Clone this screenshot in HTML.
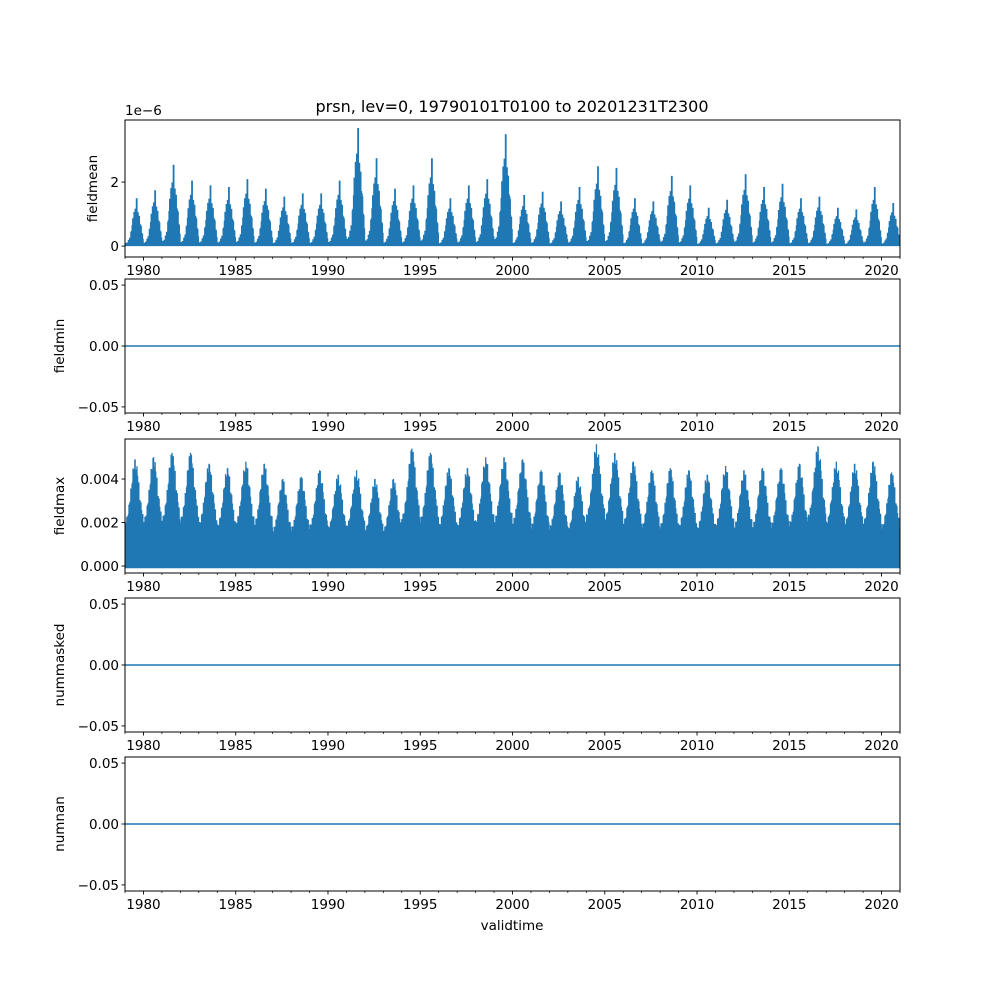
<!DOCTYPE html>
<html><head><meta charset="utf-8"><style>
body{margin:0;background:#fff}
svg{display:block;font-family:"DejaVu Sans","Liberation Sans",sans-serif}
</style></head><body>
<svg id="fig" width="1000" height="1000" viewBox="0 0 1000 1000">
<text x="512" y="112" font-size="16" text-anchor="middle">prsn, lev=0, 19790101T0100 to 20201231T2300</text>
<text x="512" y="930" font-size="13.5" text-anchor="middle">validtime</text>
</svg>
<script>
const years=[1979,1980,1981,1982,1983,1984,1985,1986,1987,1988,1989,1990,1991,1992,1993,1994,1995,1996,1997,1998,1999,2000,2001,2002,2003,2004,2005,2006,2007,2008,2009,2010,2011,2012,2013,2014,2015,2016,2017,2018,2019,2020];
const meanPeaks=[1.5,1.75,2.55,2.05,1.9,1.85,2.1,1.8,1.55,1.65,1.65,2.05,3.7,2.75,1.8,1.9,2.75,1.5,1.9,2.1,3.5,1.6,1.7,1.4,1.85,2.5,2.45,1.5,1.4,2.2,1.9,1.2,1.45,2.25,1.85,1.95,1.5,1.55,1.2,1.15,1.85,1.35];
const maxPeaks=[0.0049,0.0050,0.0052,0.0052,0.0047,0.0045,0.0048,0.0047,0.0040,0.0041,0.0044,0.0042,0.0044,0.0040,0.0040,0.0054,0.0052,0.0045,0.0045,0.0050,0.0050,0.0049,0.0044,0.0043,0.0041,0.0056,0.0052,0.0048,0.0044,0.0045,0.0044,0.0042,0.0046,0.0044,0.0045,0.0045,0.0047,0.0055,0.0048,0.0047,0.0048,0.0043];
const xTicks=[1980,1985,1990,1995,2000,2005,2010,2015,2020];
const jitter=[1,0.8,0.95,0.7,0.9,0.6,1,0.75,0.85,0.65,0.92,0.78,0.88];
const NS='http://www.w3.org/2000/svg';
const svg=document.getElementById('fig');
const L=125,R=900,X0=1979.0,X1=2021.0;
const xs=v=>L+(v-X0)/(X1-X0)*(R-L);
function el(t,a,p){const e=document.createElementNS(NS,t);for(const k in a)e.setAttribute(k,a[k]);(p||svg).appendChild(e);return e;}
const panels=[
 {name:'fieldmean',top:120,bot:257,ymin:-0.34,ymax:3.94,ticks:[0,2],fmt:v=>String(v),off:'1e\u22126'},
 {name:'fieldmin',top:279,bot:413,ymin:-0.055,ymax:0.055,ticks:[-0.05,0,0.05],fmt:v=>v.toFixed(2).replace('-','\u2212')},
 {name:'fieldmax',top:439,bot:573,ymin:-0.00032,ymax:0.00584,ticks:[0,0.002,0.004],fmt:v=>v.toFixed(3)},
 {name:'nummasked',top:598,bot:732,ymin:-0.055,ymax:0.055,ticks:[-0.05,0,0.05],fmt:v=>v.toFixed(2).replace('-','\u2212')},
 {name:'numnan',top:757,bot:891,ymin:-0.055,ymax:0.055,ticks:[-0.05,0,0.05],fmt:v=>v.toFixed(2).replace('-','\u2212')}
];
panels.forEach((p,pi)=>{
 const g=el('g',{});
 
 
 const ys=v=>p.bot-(v-p.ymin)/(p.ymax-p.ymin)*(p.bot-p.top);
 const clipId='c'+pi;
 const cp=el('clipPath',{id:clipId},g);el('rect',{x:L,y:p.top,width:R-L,height:p.bot-p.top},cp);
 if(pi===0||pi===2){
  const steps=pi===0?30:60;let d='';
  years.forEach((yr,i)=>{
   const pk=pi===0?meanPeaks[i]:maxPeaks[i];
   for(let s=0;s<steps;s++){
    const t=s/steps;
    let v;
    if(pi===0){const b=Math.exp(-Math.pow((t-0.62)/0.27,2));v=pk*(0.06+0.94*b)*(s===19?1:jitter[s%jitter.length]*0.9);}
    else {const b=Math.exp(-Math.pow((t-0.55)/0.3,2));v=pk*(0.4+0.6*b)*(s===33?1:jitter[(s+i)%jitter.length]);}
    const x=xs(yr+t);
    d+=`M${x.toFixed(2)},${ys(pi===0?0:-0.0001).toFixed(1)}V${ys(v).toFixed(1)}`;
   }
  });
  const path=el('path',{d:d,stroke:'#1f77b4','stroke-width':pi===0?1.8:1.3,fill:'none','clip-path':`url(#${clipId})`},g);
  
  
 } else {
  const ln=el('line',{x1:L,x2:R,y1:ys(0),y2:ys(0),stroke:'#1f77b4','stroke-width':1.5},g);
  
  
 }
 const fr=el('rect',{x:L,y:p.top,width:R-L,height:p.bot-p.top,fill:'none',stroke:'#000','stroke-width':1},g);
 
 
 for(let y=1979;y<=2021;y++){ if(xTicks.includes(y))continue; const x=xs(y); if(x<L||x>R)continue; el('line',{x1:x,x2:x,y1:p.bot,y2:p.bot+2,stroke:'#000','stroke-width':0.7},g);}
 xTicks.forEach(t=>{const x=xs(t);el('line',{x1:x,x2:x,y1:p.bot,y2:p.bot+3.5,stroke:'#000','stroke-width':0.9},g);
  const tx=el('text',{x:x,y:p.bot+18,'font-size':13.5,'text-anchor':'middle'},g);tx.textContent=t;
  
  });
 p.ticks.forEach(t=>{const y=ys(t);el('line',{x1:L-3.5,x2:L,y1:y,y2:y,stroke:'#000','stroke-width':0.9},g);
  const tx=el('text',{x:L-6,y:y+5,'font-size':13.5,'text-anchor':'end'},g);tx.textContent=p.fmt(t);
  
  });
 const lbl=el('text',{x:0,y:0,'font-size':13.5,'text-anchor':'middle',transform:`translate(${pi===0?97:64},${(p.top+p.bot)/2}) rotate(-90)`},g);
 lbl.textContent=p.name;
 
 
 if(p.off){const o=el('text',{x:L,y:p.top-5,'font-size':13.5},g);o.textContent=p.off;
  
  }
});
</script>
</body></html>
